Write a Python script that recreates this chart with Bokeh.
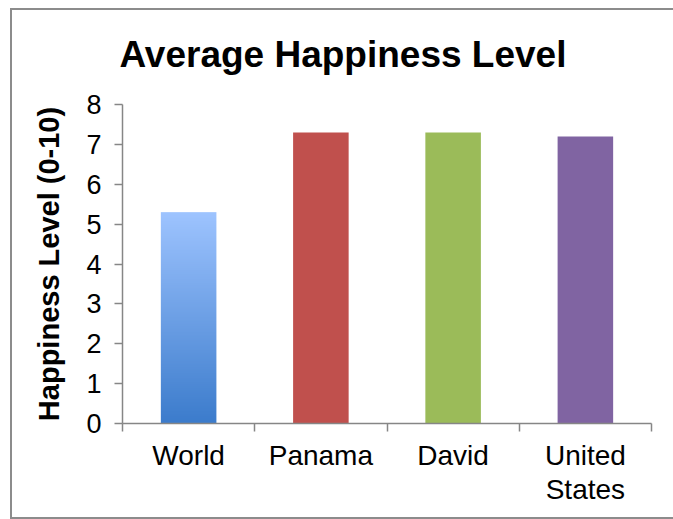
import numpy as np
from bokeh.plotting import figure
from bokeh.layouts import column
from bokeh.models import Range1d, FixedTicker, InlineStyleSheet
from bokeh.embed import file_html
from bokeh.resources import INLINE

# Data
categories = ["World", "Panama", "David", "United\nStates"]
happiness = [5.3, 7.3, 7.3, 7.2]
bar_colors = ["#4A86D6", "#C0504D", "#9BBB59", "#8064A2"]
y_ticks = [0, 1, 2, 3, 4, 5, 6, 7, 8]

FONT = "Liberation Sans"
AXIS_GREY = "#868686"

W, H = 673, 519
FL, FR, FT, FB = 122, 651, 104, 423  # plot frame edges in pixels

n = len(categories)
xs = np.arange(n) + 0.5

p = figure(width=W, height=H, output_backend="svg", toolbar_location=None,
           x_range=Range1d(0, n), y_range=Range1d(0, 8),
           min_border_left=FL, min_border_right=W - FR,
           min_border_top=FT, min_border_bottom=H - FB,
           title="Average Happiness Level")
p.outline_line_color = None
p.xgrid.visible = False
p.ygrid.visible = False
p.background_fill_color = "white"
p.border_fill_color = "white"

# Title
p.title.align = "left"
p.title.offset = -3
p.title.standoff = 60
p.title.text_font = FONT
p.title.text_font_style = "bold"
p.title.text_font_size = "37px"
p.title.text_color = "black"

bar_w = 0.42

# World bar: vertical blue gradient, drawn as an image spanning the bar
grad_n = 256
top_rgb = np.array([0x9E, 0xC4, 0xFF])
bot_rgb = np.array([0x3C, 0x7C, 0xCC])
t = np.linspace(0, 1, grad_n)[:, None]
rgb = (bot_rgb * (1 - t) + top_rgb * t).astype(np.uint32)
img = (255 << 24) | (rgb[:, 2] << 16) | (rgb[:, 1] << 8) | rgb[:, 0]
img = img.reshape(grad_n, 1).astype(np.uint32)
p.image_rgba(image=[img], x=xs[0] - bar_w / 2, y=0, dw=bar_w, dh=happiness[0])

# Remaining bars as solid fills
p.vbar(x=xs[1:], top=happiness[1:], width=bar_w, fill_color=bar_colors[1:],
       line_color=None)

# Y axis
ya = p.yaxis[0]
ya.ticker = FixedTicker(ticks=y_ticks)
ya.axis_line_color = AXIS_GREY
ya.axis_line_width = 1.5
ya.major_tick_line_color = AXIS_GREY
ya.major_tick_line_width = 1.5
ya.major_tick_out = 8
ya.major_tick_in = 0
ya.minor_tick_line_color = None
ya.major_label_text_font = FONT
ya.major_label_text_font_size = "27px"
ya.major_label_text_color = "black"
ya.major_label_standoff = 13
ya.axis_label = "Happiness Level (0-10)"
ya.axis_label_text_font = FONT
ya.axis_label_text_font_style = "bold"
ya.axis_label_text_font_size = "29px"
ya.axis_label_text_color = "black"
ya.axis_label_standoff = 18

# X axis: labels at bar centres, ticks at category boundaries
xa = p.xaxis[0]
xa.ticker = FixedTicker(ticks=list(xs), minor_ticks=list(range(n + 1)))
xa.major_label_overrides = {float(x): c for x, c in zip(xs, categories)}
xa.axis_line_color = AXIS_GREY
xa.axis_line_width = 1.5
xa.major_tick_out = 0
xa.major_tick_in = 0
xa.minor_tick_line_color = AXIS_GREY
xa.minor_tick_line_width = 1.5
xa.minor_tick_out = 8
xa.minor_tick_in = 0
xa.major_label_text_font = FONT
xa.major_label_text_font_size = "28px"
xa.major_label_text_line_height = 1.1
xa.major_label_text_color = "black"
xa.major_label_standoff = 8

# Thin grey frame around the chart area; its right side runs off the page
frame_css = InlineStyleSheet(css="""
:host { position: relative; overflow: hidden; }
:host::after {
  content: "";
  position: absolute;
  left: 10px; top: 8px; right: -30px;
  height: 507px;
  border-left: 2px solid #8C8C8C;
  border-top: 2px solid #8C8C8C;
  border-bottom: 2px solid #8C8C8C;
  border-right: none;
  pointer-events: none;
}
""")
page = column(p, width=W, height=H, stylesheets=[frame_css])

open("out.html", "w").write(file_html(page, INLINE))
